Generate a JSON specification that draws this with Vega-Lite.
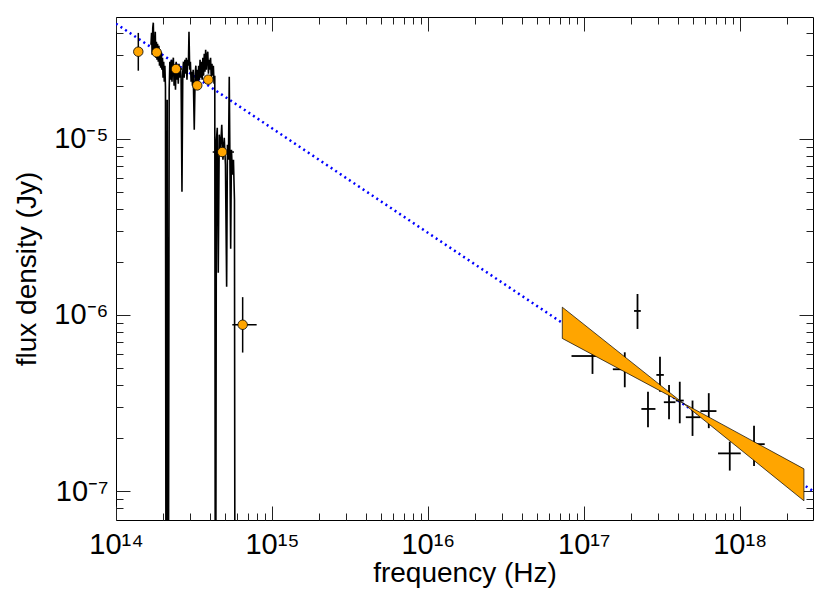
{
  "$schema": "https://vega.github.io/schema/vega-lite/v6.json",
  "width": 697,
  "height": 503,
  "autosize": {"type": "none"},
  "padding": {"left": 116, "top": 17, "right": 17, "bottom": 73},
  "background": "white",
  "config": {
    "view": {"stroke": "#000", "strokeWidth": 1},
    "axis": {"domain": false, "grid": false, "tickColor": "#222", "tickWidth": 1, "labelColor": "#000", "titleColor": "#000", "labelFont": "Liberation Sans", "titleFont": "Liberation Sans", "titleFontWeight": "normal", "labelFlush": false, "labelOverlap": false, "labelBound": false}
  },
  "datasets": {
    "model": [
      {"nu": 1e14, "f": 4.49e-5},
      {"nu": 2.95e18, "f": 1.003e-7}
    ],
    "spectrum": [
      {"nu": 1.676e14, "f": 3.413e-5},
      {"nu": 1.691e14, "f": 3.993e-5},
      {"nu": 1.706e14, "f": 2.995e-5},
      {"nu": 1.721e14, "f": 4.262e-5},
      {"nu": 1.735e14, "f": 4.55e-5},
      {"nu": 1.748e14, "f": 3.197e-5},
      {"nu": 1.760e14, "f": 3.839e-5},
      {"nu": 1.773e14, "f": 3.115e-5},
      {"nu": 1.786e14, "f": 4.045e-5},
      {"nu": 1.799e14, "f": 2.880e-5},
      {"nu": 1.816e14, "f": 3.549e-5},
      {"nu": 1.832e14, "f": 2.806e-5},
      {"nu": 1.848e14, "f": 3.458e-5},
      {"nu": 1.867e14, "f": 2.734e-5},
      {"nu": 1.884e14, "f": 3.369e-5},
      {"nu": 1.901e14, "f": 2.595e-5},
      {"nu": 1.918e14, "f": 3.197e-5},
      {"nu": 1.935e14, "f": 2.528e-5},
      {"nu": 1.952e14, "f": 3.115e-5},
      {"nu": 1.969e14, "f": 2.463e-5},
      {"nu": 1.987e14, "f": 2.880e-5},
      {"nu": 2.004e14, "f": 2.218e-5},
      {"nu": 2.022e14, "f": 2.734e-5},
      {"nu": 2.040e14, "f": 2.105e-5},
      {"nu": 2.058e14, "f": 2.595e-5},
      {"nu": 2.076e14, "f": 1.972e-5},
      {"nu": 2.098e14, "f": 1e-9},
      {"nu": 2.129e14, "f": 1.664e-5},
      {"nu": 2.160e14, "f": 1e-9},
      {"nu": 2.193e14, "f": 1.896e-5},
      {"nu": 2.215e14, "f": 2.734e-5},
      {"nu": 2.239e14, "f": 2.161e-5},
      {"nu": 2.262e14, "f": 2.806e-5},
      {"nu": 2.286e14, "f": 2.105e-5},
      {"nu": 2.310e14, "f": 2.663e-5},
      {"nu": 2.333e14, "f": 2.880e-5},
      {"nu": 2.358e14, "f": 1.998e-5},
      {"nu": 2.382e14, "f": 2.595e-5},
      {"nu": 2.407e14, "f": 1.896e-5},
      {"nu": 2.432e14, "f": 2.734e-5},
      {"nu": 2.458e14, "f": 2.161e-5},
      {"nu": 2.483e14, "f": 2.595e-5},
      {"nu": 2.508e14, "f": 2.051e-5},
      {"nu": 2.534e14, "f": 2.663e-5},
      {"nu": 2.560e14, "f": 2.218e-5},
      {"nu": 2.587e14, "f": 2.528e-5},
      {"nu": 2.614e14, "f": 2.277e-5},
      {"nu": 2.649e14, "f": 5.005e-6},
      {"nu": 2.681e14, "f": 2.399e-5},
      {"nu": 2.709e14, "f": 2.734e-5},
      {"nu": 2.737e14, "f": 2.218e-5},
      {"nu": 2.766e14, "f": 2.806e-5},
      {"nu": 2.794e14, "f": 2.337e-5},
      {"nu": 2.824e14, "f": 2.880e-5},
      {"nu": 2.852e14, "f": 2.161e-5},
      {"nu": 2.882e14, "f": 2.806e-5},
      {"nu": 2.912e14, "f": 2.595e-5},
      {"nu": 2.938e14, "f": 4.045e-5},
      {"nu": 2.969e14, "f": 2.463e-5},
      {"nu": 2.999e14, "f": 2.734e-5},
      {"nu": 3.031e14, "f": 2.105e-5},
      {"nu": 3.062e14, "f": 2.399e-5},
      {"nu": 3.094e14, "f": 1.998e-5},
      {"nu": 3.125e14, "f": 2.463e-5},
      {"nu": 3.176e14, "f": 1.124e-5},
      {"nu": 3.219e14, "f": 2.337e-5},
      {"nu": 3.252e14, "f": 2.595e-5},
      {"nu": 3.286e14, "f": 1.947e-5},
      {"nu": 3.320e14, "f": 2.463e-5},
      {"nu": 3.354e14, "f": 2.051e-5},
      {"nu": 3.389e14, "f": 2.595e-5},
      {"nu": 3.424e14, "f": 2.161e-5},
      {"nu": 3.460e14, "f": 2.806e-5},
      {"nu": 3.496e14, "f": 2.218e-5},
      {"nu": 3.532e14, "f": 2.734e-5},
      {"nu": 3.569e14, "f": 2.161e-5},
      {"nu": 3.606e14, "f": 2.880e-5},
      {"nu": 3.643e14, "f": 2.277e-5},
      {"nu": 3.681e14, "f": 3.034e-5},
      {"nu": 3.719e14, "f": 2.399e-5},
      {"nu": 3.758e14, "f": 3.197e-5},
      {"nu": 3.797e14, "f": 2.463e-5},
      {"nu": 3.837e14, "f": 2.956e-5},
      {"nu": 3.877e14, "f": 3.115e-5},
      {"nu": 3.917e14, "f": 2.337e-5},
      {"nu": 3.958e14, "f": 2.806e-5},
      {"nu": 3.999e14, "f": 2.463e-5},
      {"nu": 4.041e14, "f": 2.880e-5},
      {"nu": 4.082e14, "f": 2.218e-5},
      {"nu": 4.125e14, "f": 2.663e-5},
      {"nu": 4.168e14, "f": 2.277e-5},
      {"nu": 4.211e14, "f": 2.595e-5},
      {"nu": 4.255e14, "f": 2.051e-5},
      {"nu": 4.300e14, "f": 2.277e-5},
      {"nu": 4.343e14, "f": 1e-9},
      {"nu": 4.407e14, "f": 9.87e-6},
      {"nu": 4.461e14, "f": 1.154e-5},
      {"nu": 4.527e14, "f": 1.737e-6},
      {"nu": 4.594e14, "f": 1.054e-5},
      {"nu": 4.676e14, "f": 8.66e-6},
      {"nu": 4.767e14, "f": 1.200e-5},
      {"nu": 4.851e14, "f": 7.60e-6},
      {"nu": 4.946e14, "f": 1.013e-5},
      {"nu": 5.034e14, "f": 7.12e-6},
      {"nu": 5.123e14, "f": 1.447e-6},
      {"nu": 5.184e14, "f": 9.25e-6},
      {"nu": 5.262e14, "f": 7.60e-6},
      {"nu": 5.325e14, "f": 2.247e-5},
      {"nu": 5.381e14, "f": 7.12e-6},
      {"nu": 5.437e14, "f": 2.377e-6},
      {"nu": 5.501e14, "f": 8.66e-6},
      {"nu": 5.582e14, "f": 6.25e-6},
      {"nu": 5.665e14, "f": 7.60e-6},
      {"nu": 5.750e14, "f": 4.508e-6},
      {"nu": 5.810e14, "f": 1e-9}
    ],
    "optical": [
      {"nu": 1.39e14, "f": 3.115e-5, "flo": 2.43e-5, "fhi": 3.98e-5, "nulo": 1.39e14, "nuhi": 1.39e14},
      {"nu": 1.823e14, "f": 3.087e-5, "flo": 2.9e-5, "fhi": 3.3e-5, "nulo": 1.823e14, "nuhi": 1.823e14},
      {"nu": 2.425e14, "f": 2.485e-5, "flo": 2.35e-5, "fhi": 2.63e-5, "nulo": 2.22e14, "nuhi": 2.65e14},
      {"nu": 3.32e14, "f": 2.005e-5, "flo": 1.9e-5, "fhi": 2.12e-5, "nulo": 3.2e14, "nuhi": 3.45e14},
      {"nu": 3.906e14, "f": 2.162e-5, "flo": 2.05e-5, "fhi": 2.28e-5, "nulo": 3.75e14, "nuhi": 4.05e14},
      {"nu": 4.80e14, "f": 8.40e-6, "flo": 7.9e-6, "fhi": 8.9e-6, "nulo": 4.17e14, "nuhi": 5.71e14},
      {"nu": 6.49e14, "f": 8.80e-7, "flo": 6.12e-7, "fhi": 1.262e-6, "nulo": 5.57e14, "nuhi": 7.98e14}
    ],
    "xray": [
      {"nu": 1.137e17, "f": 5.85e-7, "flo": 4.63e-7, "fhi": 7.21e-7, "nulo": 8.34e16, "nuhi": 1.206e17},
      {"nu": 1.831e17, "f": 4.92e-7, "flo": 3.89e-7, "fhi": 6.14e-7, "nulo": 1.535e17, "nuhi": 1.972e17},
      {"nu": 2.21e17, "f": 1.054e-6, "flo": 8.33e-7, "fhi": 1.315e-6, "nulo": 2.10e17, "nuhi": 2.32e17},
      {"nu": 3.08e17, "f": 4.57e-7, "flo": 3.67e-7, "fhi": 5.80e-7, "nulo": 2.92e17, "nuhi": 3.26e17},
      {"nu": 2.58e17, "f": 2.93e-7, "flo": 2.31e-7, "fhi": 3.67e-7, "nulo": 2.34e17, "nuhi": 2.88e17},
      {"nu": 3.52e17, "f": 3.20e-7, "flo": 2.56e-7, "fhi": 4.01e-7, "nulo": 3.26e17, "nuhi": 3.87e17},
      {"nu": 4.125e17, "f": 3.27e-7, "flo": 2.43e-7, "fhi": 4.18e-7, "nulo": 3.89e17, "nuhi": 4.375e17},
      {"nu": 4.98e17, "f": 2.63e-7, "flo": 2.06e-7, "fhi": 3.27e-7, "nulo": 4.51e17, "nuhi": 5.60e17},
      {"nu": 6.33e17, "f": 2.85e-7, "flo": 2.28e-7, "fhi": 3.60e-7, "nulo": 5.60e17, "nuhi": 7.09e17},
      {"nu": 8.63e17, "f": 1.64e-7, "flo": 1.31e-7, "fhi": 1.91e-7, "nulo": 7.26e17, "nuhi": 1.015e18},
      {"nu": 1.235e18, "f": 1.85e-7, "flo": 1.39e-7, "fhi": 2.35e-7, "nulo": 1.061e18, "nuhi": 1.446e18}
    ],
    "bowtie": [
      {"nu": 7.28e16, "lo": 7.36e-7, "hi": 1.107e-6},
      {"nu": 4.31e17, "lo": 3.17e-7, "hi": 3.17e-7},
      {"nu": 2.58e18, "lo": 8.83e-8, "hi": 1.34e-7}
    ]
  },
  "layer": [
    {
      "data": {"name": "model"},
      "mark": {"type": "line", "color": "#0000ff", "strokeWidth": 2.5, "strokeDash": [2, 3.5], "clip": true},
      "encoding": {
        "x": {
          "field": "nu", "type": "quantitative",
          "scale": {"type": "log", "domain": [1e14, 2.95e18], "nice": false},
          "axis": {
            "orient": "bottom",
            "values": [1e14, 2e14, 3e14, 4e14, 5e14, 6e14, 7e14, 8e14, 9e14, 1e15, 2e15, 3e15, 4e15, 5e15, 6e15, 7e15, 8e15, 9e15, 1e16, 2e16, 3e16, 4e16, 5e16, 6e16, 7e16, 8e16, 9e16, 1e17, 2e17, 3e17, 4e17, 5e17, 6e17, 7e17, 8e17, 9e17, 1e18, 2e18],
            "labelExpr": "datum.value == 1e14 ? '10¹⁴' : datum.value == 1e15 ? '10¹⁵' : datum.value == 1e16 ? '10¹⁶' : datum.value == 1e17 ? '10¹⁷' : datum.value == 1e18 ? '10¹⁸' : ''",
            "tickSize": {"condition": {"test": "abs(log(datum.value)/LN10 - round(log(datum.value)/LN10)) < 0.000001", "value": -14}, "value": -7},
            "labelFontSize": 29,
            "labelPadding": 24,
            "title": "frequency (Hz)",
            "titleFontSize": 28,
            "titlePadding": -7
          }
        },
        "y": {
          "field": "f", "type": "quantitative",
          "scale": {"type": "log", "domain": [6.87e-8, 4.9e-5], "nice": false},
          "axis": {
            "orient": "left",
            "values": [8e-8, 9e-8, 1e-7, 2e-7, 3e-7, 4e-7, 5e-7, 6e-7, 7e-7, 8e-7, 9e-7, 1e-6, 2e-6, 3e-6, 4e-6, 5e-6, 6e-6, 7e-6, 8e-6, 9e-6, 1e-5, 2e-5, 3e-5, 4e-5],
            "labelExpr": "datum.value == 1e-5 ? '10⁻⁵' : datum.value == 1e-6 ? '10⁻⁶' : datum.value == 1e-7 ? '10⁻⁷' : ''",
            "tickSize": {"condition": {"test": "abs(log(datum.value)/LN10 - round(log(datum.value)/LN10)) < 0.000001", "value": -14}, "value": -7},
            "labelFontSize": 29,
            "labelPadding": 22,
            "title": "flux density (Jy)",
            "titleFontSize": 28,
            "titlePadding": 12
          }
        }
      }
    },
    {
      "data": {"name": "spectrum"},
      "mark": {"type": "line", "color": "#000", "strokeWidth": 1.6, "clip": true},
      "encoding": {
        "x": {
          "field": "nu", "type": "quantitative",
          "axis": {
            "orient": "top",
            "values": [1e14, 2e14, 3e14, 4e14, 5e14, 6e14, 7e14, 8e14, 9e14, 1e15, 2e15, 3e15, 4e15, 5e15, 6e15, 7e15, 8e15, 9e15, 1e16, 2e16, 3e16, 4e16, 5e16, 6e16, 7e16, 8e16, 9e16, 1e17, 2e17, 3e17, 4e17, 5e17, 6e17, 7e17, 8e17, 9e17, 1e18, 2e18],
            "labels": false,
            "title": null,
            "tickSize": {"condition": {"test": "abs(log(datum.value)/LN10 - round(log(datum.value)/LN10)) < 0.000001", "value": -14}, "value": -7}
          }
        },
        "y": {
          "field": "f", "type": "quantitative",
          "axis": {
            "orient": "right",
            "values": [8e-8, 9e-8, 1e-7, 2e-7, 3e-7, 4e-7, 5e-7, 6e-7, 7e-7, 8e-7, 9e-7, 1e-6, 2e-6, 3e-6, 4e-6, 5e-6, 6e-6, 7e-6, 8e-6, 9e-6, 1e-5, 2e-5, 3e-5, 4e-5],
            "labels": false,
            "title": null,
            "tickSize": {"condition": {"test": "abs(log(datum.value)/LN10 - round(log(datum.value)/LN10)) < 0.000001", "value": -14}, "value": -7}
          }
        }
      }
    },
    {
      "data": {"name": "optical"},
      "mark": {"type": "rule", "color": "#000", "strokeWidth": 1.5, "clip": true},
      "encoding": {
        "x": {"field": "nu", "type": "quantitative", "axis": null},
        "y": {"field": "flo", "type": "quantitative", "axis": null},
        "y2": {"field": "fhi"}
      }
    },
    {
      "data": {"name": "optical"},
      "mark": {"type": "rule", "color": "#000", "strokeWidth": 1.5, "clip": true},
      "encoding": {
        "x": {"field": "nulo", "type": "quantitative", "axis": null},
        "x2": {"field": "nuhi"},
        "y": {"field": "f", "type": "quantitative", "axis": null}
      }
    },
    {
      "data": {"name": "optical"},
      "mark": {"type": "point", "shape": "circle", "filled": true, "fill": "#FFA500", "stroke": "#000", "strokeWidth": 0.8, "size": 90, "opacity": 1},
      "encoding": {
        "x": {"field": "nu", "type": "quantitative", "axis": null},
        "y": {"field": "f", "type": "quantitative", "axis": null}
      }
    },
    {
      "data": {"name": "xray"},
      "mark": {"type": "rule", "color": "#000", "strokeWidth": 1.8},
      "encoding": {
        "x": {"field": "nu", "type": "quantitative", "axis": null},
        "y": {"field": "flo", "type": "quantitative", "axis": null},
        "y2": {"field": "fhi"}
      }
    },
    {
      "data": {"name": "xray"},
      "mark": {"type": "rule", "color": "#000", "strokeWidth": 1.8},
      "encoding": {
        "x": {"field": "nulo", "type": "quantitative", "axis": null},
        "x2": {"field": "nuhi"},
        "y": {"field": "f", "type": "quantitative", "axis": null}
      }
    },
    {
      "data": {"name": "bowtie"},
      "mark": {"type": "area", "fill": "#FFA500", "stroke": "#000", "strokeWidth": 0.7, "opacity": 1, "fillOpacity": 1},
      "encoding": {
        "x": {"field": "nu", "type": "quantitative", "axis": null},
        "y": {"field": "lo", "type": "quantitative", "axis": null},
        "y2": {"field": "hi"}
      }
    }
  ],
  "resolve": {"axis": {"x": "independent", "y": "independent"}}
}
